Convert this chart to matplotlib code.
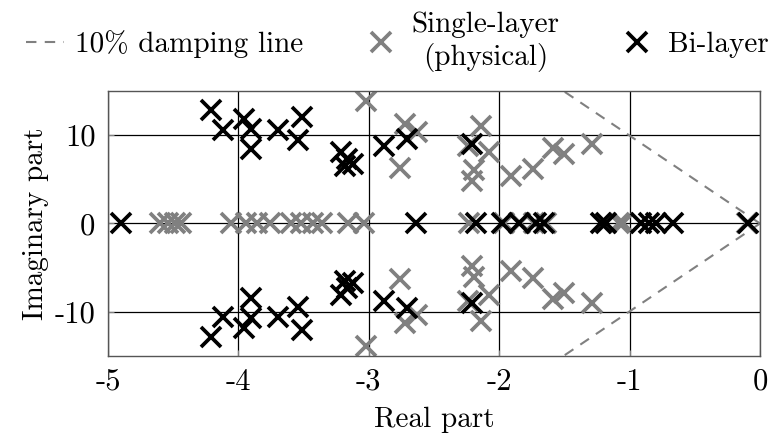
import matplotlib
matplotlib.use('Agg')
import matplotlib.pyplot as plt
import numpy as np

plt.rcParams['font.family'] = 'serif'
plt.rcParams['font.serif'] = ['cmr10']
plt.rcParams['mathtext.fontset'] = 'cm'
plt.rcParams['axes.unicode_minus'] = False
plt.rcParams['axes.formatter.use_mathtext'] = False
plt.rcParams['font.size'] = 21

# single-layer (physical) eigenvalues
single_re = [-4.60, -4.54, -4.49, -4.44, -4.06, -3.94, -3.86, -3.76, -3.60, -3.52,
             -3.43, -3.36, -3.16, -3.04, -2.23, -1.96, -1.84, -1.73, -1.64, -1.08,
             -1.05, -0.10,
             -3.02, -2.72, -2.63, -2.76, -2.24, -2.14, -2.08, -2.19, -2.21, -1.91,
             -1.74, -1.59, -1.50, -1.29,
             -3.02, -2.72, -2.63, -2.76, -2.24, -2.14, -2.08, -2.19, -2.21, -1.91,
             -1.74, -1.59, -1.50, -1.29]
single_im = [0, 0, 0, 0, 0, 0, 0, 0, 0, 0,
             0, 0, 0, 0, 0, 0, 0, 0, 0, 0,
             0, 0,
             13.9, 11.3, 10.4, 6.3, 8.8, 11.0, 8.1, 6.0, 4.8, 5.4,
             6.2, 8.6, 7.9, 9.0,
             -13.9, -11.3, -10.4, -6.3, -8.8, -11.0, -8.1, -6.0, -4.8, -5.4,
             -6.2, -8.6, -7.9, -9.0]

# bi-layer eigenvalues
bi_re = [-4.90, -2.635, -2.175, -1.98, -1.85, -1.72, -1.66, -1.22, -1.18, -0.91,
         -0.85, -0.80, -0.67, -0.094,
         -4.21, -4.12, -3.96, -3.90, -3.90, -3.70, -3.51, -3.54, -3.21, -3.17,
         -3.12, -3.18, -2.88, -2.71, -2.21,
         -4.21, -4.12, -3.96, -3.90, -3.90, -3.70, -3.51, -3.54, -3.21, -3.17,
         -3.12, -3.18, -2.88, -2.71, -2.21]
bi_im = [0, 0, 0, 0, 0, 0, 0, 0, 0, 0,
         0, 0, 0, 0,
         12.8, 10.6, 11.8, 10.7, 8.4, 10.6, 12.0, 9.5, 8.1, 7.3,
         6.7, 6.5, 8.8, 9.6, 9.0,
         -12.8, -10.6, -11.8, -10.7, -8.4, -10.6, -12.0, -9.5, -8.1, -7.3,
         -6.7, -6.5, -8.8, -9.6, -9.0]

zeta = 0.1
damp_re = [0, -1.6]

fig = plt.figure(figsize=(7.71, 4.41), dpi=100)
ax = fig.add_axes([0.1401, 0.1927, 0.8456, 0.601])

slope = np.sqrt(1 - zeta ** 2) / zeta
x_d = np.array(damp_re)
ax.plot(x_d, -slope * x_d, '--', color='gray', lw=1.5, dashes=(5, 4),
        label='10% damping line')
ax.plot(x_d, slope * x_d, '--', color='gray', lw=1.5, dashes=(5, 4))

ax.plot(single_re, single_im, 'x', color='#808080', ms=14.5, mew=2.7,
        linestyle='none', label='Single-layer\n(physical)')
ax.plot(bi_re, bi_im, 'x', color='black', ms=14.5, mew=2.7,
        linestyle='none', label='Bi-layer')

ax.set_xlim(-5, 0)
ax.set_ylim(-15, 15)
ax.set_xticks([-5, -4, -3, -2, -1, 0])
ax.set_yticks([-10, 0, 10])
ax.grid(True, color='black', lw=0.9)
ax.set_axisbelow(True)
ax.tick_params(direction='in', length=4, color='gray', labelsize=22, pad=9)
for s in ax.spines.values():
    s.set_color('#555555')
    s.set_linewidth(1.0)
ax.set_xlabel('Real part', labelpad=8)
ax.set_ylabel('Imaginary part', labelpad=4)

leg = fig.legend(loc='center', bbox_to_anchor=(0.515, 0.905), ncol=3, frameon=False,
                 handlelength=1.3, columnspacing=2.0, handletextpad=0.4,
                 fontsize=21)
for t in leg.get_texts():
    t.set_multialignment('center')

plt.savefig('out.png', dpi=100)
